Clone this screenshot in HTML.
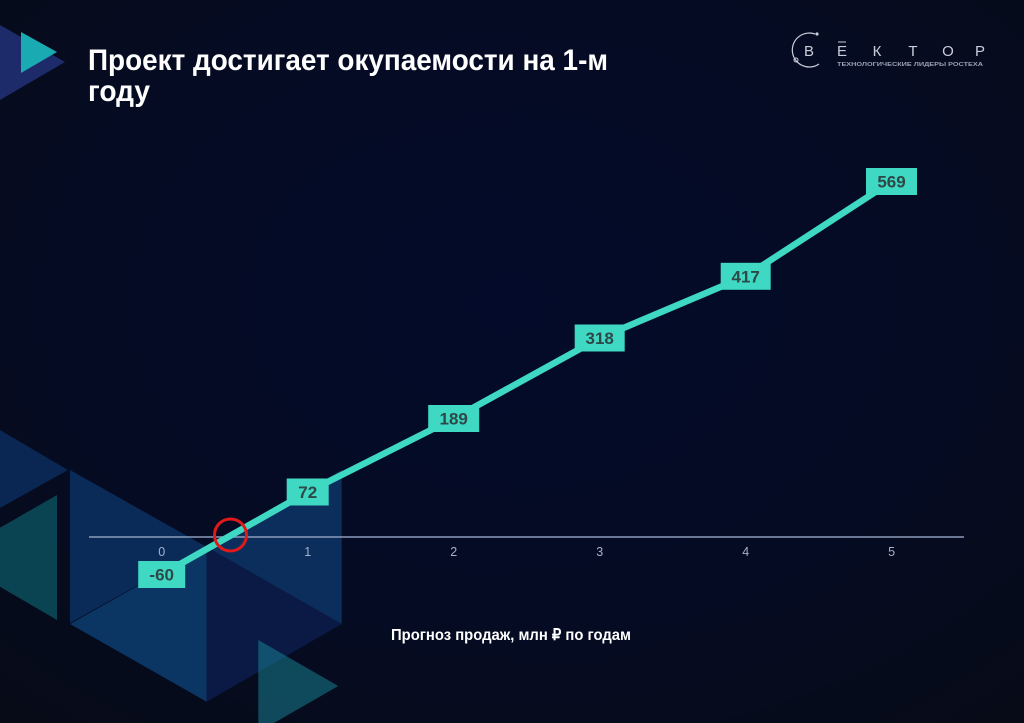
<!DOCTYPE html>
<html>
<head>
<meta charset="utf-8">
<style>
  html,body{margin:0;padding:0;background:#050a1e;}
  svg{display:block;}
</style>
</head>
<body>
<svg width="1024" height="723" viewBox="0 0 1024 723" xmlns="http://www.w3.org/2000/svg">
  <defs>
    <radialGradient id="bg" cx="0.5" cy="0.42" r="0.75">
      <stop offset="0" stop-color="#040b2a"/>
      <stop offset="0.6" stop-color="#050b22"/>
      <stop offset="1" stop-color="#070b18"/>
    </radialGradient>
  </defs>
  <rect x="0" y="0" width="1024" height="723" fill="url(#bg)"/>

  <!-- top-left logo triangles -->
  <polygon points="0,25 65,62 0,100" fill="#1e2b6a"/>
  <polygon points="21,32 57,52 21,73" fill="#19aab2"/>

  <!-- bottom-left decorative triangles -->
  <polygon points="0,430 68,470 0,508" fill="#0a2652"/>
  <polygon points="57,495 57,620 -51,557" fill="#0a4452"/>
  <polygon points="70,470 70,623 206.7,547" fill="#0a2a58"/>
  <polygon points="206.7,547 206.7,701.7 70,624" fill="#0b3664"/>
  <polygon points="206.7,547 206.7,701.7 341.7,624" fill="#0a1a44"/>
  <polygon points="341.7,470 341.7,624 206.7,547" fill="#0b2e5c"/>
  <polygon points="258.3,640 258.3,732 338.3,686" fill="#17889a" fill-opacity="0.5"/>

  <!-- title -->
  <text x="88" y="70" font-family="Liberation Sans, sans-serif" font-weight="bold" font-size="30" fill="#ffffff" textLength="520" lengthAdjust="spacingAndGlyphs">Проект достигает окупаемости на 1-м</text>
  <text x="88" y="101" font-family="Liberation Sans, sans-serif" font-weight="bold" font-size="30" fill="#ffffff" textLength="62" lengthAdjust="spacingAndGlyphs">году</text>

  <!-- logo -->
  <path d="M 815 34 A 17 17 0 1 0 819 64" fill="none" stroke="#c9ceda" stroke-width="1.2"/>
  <circle cx="817" cy="34" r="1.6" fill="#c9ceda"/>
  <circle cx="796" cy="60" r="2" fill="none" stroke="#c9ceda" stroke-width="1"/>
  <g font-family="Liberation Sans, sans-serif" font-size="15" fill="#c9ceda" text-anchor="middle">
    <text x="809" y="56">В</text>
    <text x="842" y="56">Е</text>
    <text x="877" y="56">К</text>
    <text x="913" y="56">Т</text>
    <text x="948" y="56">О</text>
    <text x="980" y="56">Р</text>
  </g>
  <line x1="838" y1="42" x2="846" y2="42" stroke="#c9ceda" stroke-width="1"/>
  <text x="837" y="66" font-family="Liberation Sans, sans-serif" font-weight="bold" font-size="5.5" fill="#9aa2b6" textLength="146" lengthAdjust="spacingAndGlyphs">ТЕХНОЛОГИЧЕСКИЕ ЛИДЕРЫ РОСТЕХА</text>

  <!-- axis -->
  <line x1="89" y1="537" x2="964" y2="537" stroke="#8d9cbb" stroke-width="1.4"/>
  <g font-family="Liberation Sans, sans-serif" font-size="12.5" fill="#a3b1cc" text-anchor="middle">
    <text x="161.7" y="556">0</text>
    <text x="307.7" y="556">1</text>
    <text x="453.7" y="556">2</text>
    <text x="599.7" y="556">3</text>
    <text x="745.7" y="556">4</text>
    <text x="891.6" y="556">5</text>
  </g>

  <!-- series line -->
  <polyline points="161.7,574.5 307.7,492 453.7,418.5 599.7,338 745.7,276.3 891.5,181.5" fill="none" stroke="#3ed8c3" stroke-width="6.5" stroke-linejoin="round"/>

  <!-- break-even circle -->
  <circle cx="230.5" cy="535" r="16" fill="none" stroke="#e01a1a" stroke-width="3"/>

  <!-- data labels -->
  <g font-family="Liberation Sans, sans-serif" font-weight="bold" font-size="17" fill="#2e4848" text-anchor="middle">
    <rect x="138.2" y="561" width="47" height="27" fill="#3ed8c3"/>
    <text x="161.7" y="580.5">-60</text>
    <rect x="286.7" y="478.5" width="42" height="27" fill="#3ed8c3"/>
    <text x="307.7" y="498">72</text>
    <rect x="428.2" y="405" width="51" height="27" fill="#3ed8c3"/>
    <text x="453.7" y="424.5">189</text>
    <rect x="574.7" y="324.5" width="50" height="27" fill="#3ed8c3"/>
    <text x="599.7" y="344">318</text>
    <rect x="720.7" y="262.8" width="50" height="27" fill="#3ed8c3"/>
    <text x="745.7" y="282.3">417</text>
    <rect x="866" y="168" width="51" height="27" fill="#3ed8c3"/>
    <text x="891.5" y="187.5">569</text>
  </g>

  <!-- footer caption -->
  <text x="391" y="640" font-family="Liberation Sans, sans-serif" font-weight="bold" font-size="16" fill="#ffffff" textLength="240" lengthAdjust="spacingAndGlyphs">Прогноз продаж, млн ₽ по годам</text>
</svg>
</body>
</html>
